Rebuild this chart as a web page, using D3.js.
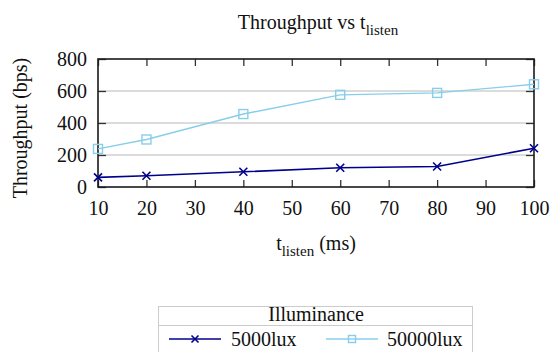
<!DOCTYPE html>
<html>
<head>
<meta charset="utf-8">
<script src="https://cdn.jsdelivr.net/npm/d3@7"></script>
<style>
  body { margin: 0; background: #fff; }
  svg, svg text { font-family: "Liberation Serif", "Times New Roman", serif !important; }
  text { fill: #111; }
</style>
</head>
<body>
<svg id="chart" width="556" height="352"></svg>
<script>
const tListen = [10, 20, 40, 60, 80, 100];
const lux5000 = [60, 70, 95, 120, 128, 242];
const lux50000 = [238, 297, 456, 576, 588, 642];
const xTicks = [10, 20, 30, 40, 50, 60, 70, 80, 90, 100];
const yTicks = [0, 200, 400, 600, 800];

const series = [
  { name: '5000lux', values: lux5000, color: '#00008b', marker: 'cross', width: 1.6 },
  { name: '50000lux', values: lux50000, color: '#87ceeb', marker: 'square', width: 1.4 }
];

const svg = d3.select('#chart');
const plotL = 98, plotR = 534, plotT = 59, plotB = 187;

const x = d3.scaleLinear().domain([10, 100]).range([plotL, plotR]);
const y = d3.scaleLinear().domain([0, 800]).range([plotB, plotT]);

// grid
svg.append('g')
  .selectAll('line')
  .data(yTicks.slice(1, -1))
  .enter()
  .append('line')
  .attr('x1', plotL).attr('x2', plotR)
  .attr('y1', d => y(d)).attr('y2', d => y(d))
  .attr('stroke', '#b8b8b8')
  .attr('stroke-width', 1);

// axes, ticks inward
const xBottom = d3.axisBottom(x).tickValues(xTicks).tickSize(-7).tickPadding(14);
const xTop = d3.axisTop(x).tickValues(xTicks).tickSize(-7).tickFormat('');
const yLeft = d3.axisLeft(y).tickValues(yTicks).tickSize(-8).tickPadding(11);
const yRight = d3.axisRight(y).tickValues(yTicks).tickSize(-8).tickFormat('');

[
  [xBottom, `translate(0,${plotB})`],
  [xTop, `translate(0,${plotT})`],
  [yLeft, `translate(${plotL},0)`],
  [yRight, `translate(${plotR},0)`]
].forEach(([ax, tr]) => {
  const g = svg.append('g').attr('transform', tr).call(ax);
  g.attr('font-family', null).attr('font-size', null);
  g.select('.domain').remove();
  g.selectAll('.tick line').attr('stroke', '#333').attr('stroke-width', 1.3);
  g.selectAll('.tick text')
    .style('font-size', '20px')
    .attr('fill', '#111');
});

// frame
svg.append('rect')
  .attr('x', plotL).attr('y', plotT)
  .attr('width', plotR - plotL).attr('height', plotB - plotT)
  .attr('fill', 'none')
  .attr('stroke', '#1a1a1a')
  .attr('stroke-width', 1.6);

function drawMarker(g, type, cx, cy, s, color) {
  if (type === 'cross') {
    g.append('path')
      .attr('d', `M${cx - s},${cy - s}L${cx + s},${cy + s}M${cx - s},${cy + s}L${cx + s},${cy - s}`)
      .attr('stroke', color).attr('stroke-width', 1.6).attr('fill', 'none');
  } else {
    g.append('rect')
      .attr('x', cx - s).attr('y', cy - s)
      .attr('width', 2 * s).attr('height', 2 * s)
      .attr('stroke', color).attr('stroke-width', 1.4).attr('fill', 'none');
  }
}

const line = d3.line().x((d, i) => x(tListen[i])).y(d => y(d));

series.forEach(s => {
  svg.append('path')
    .datum(s.values)
    .attr('d', line)
    .attr('fill', 'none')
    .attr('stroke', s.color)
    .attr('stroke-width', s.width);
  const g = svg.append('g');
  s.values.forEach((v, i) => {
    drawMarker(g, s.marker, x(tListen[i]), y(v), s.marker === 'cross' ? 4 : 4.5, s.color);
  });
});

// title
const title = svg.append('text')
  .attr('x', 318).attr('y', 29)
  .attr('text-anchor', 'middle')
  .style('font-size', '20px');
title.append('tspan').text('Throughput vs t');
title.append('tspan').attr('dy', 6).style('font-size', '15px').text('listen');

// x label
const xl = svg.append('text')
  .attr('x', 316).attr('y', 250)
  .attr('text-anchor', 'middle')
  .style('font-size', '20px');
xl.append('tspan').text('t');
xl.append('tspan').attr('dy', 6).style('font-size', '15px').text('listen');
xl.append('tspan').attr('dy', -6).text(' (ms)');

// y label
svg.append('text')
  .attr('transform', 'translate(27,128) rotate(-90)')
  .attr('text-anchor', 'middle')
  .style('font-size', '20px')
  .text('Throughput (bps)');

// legend
const lg = svg.append('g');
lg.append('rect')
  .attr('x', 158.5).attr('y', 306.5)
  .attr('width', 314).attr('height', 60)
  .attr('fill', '#fff')
  .attr('stroke', '#cccccc')
  .attr('stroke-width', 1);
lg.append('line')
  .attr('x1', 158.5).attr('x2', 472.5)
  .attr('y1', 325.5).attr('y2', 325.5)
  .attr('stroke', '#cccccc');
lg.append('text')
  .attr('x', 316).attr('y', 321)
  .attr('text-anchor', 'middle')
  .style('font-size', '20px')
  .text('Illuminance');

const legendItems = [
  { s: series[0], x0: 169, x1: 221, tx: 231 },
  { s: series[1], x0: 326, x1: 378, tx: 387 }
];
legendItems.forEach(it => {
  lg.append('line')
    .attr('x1', it.x0).attr('x2', it.x1)
    .attr('y1', 339).attr('y2', 339)
    .attr('stroke', it.s.color)
    .attr('stroke-width', it.s.width);
  drawMarker(lg, it.s.marker, (it.x0 + it.x1) / 2, 339, 3.5, it.s.color);
  lg.append('text')
    .attr('x', it.tx).attr('y', 346)
    .style('font-size', '20px')
    .text(it.s.name);
});
</script>
</body>
</html>
